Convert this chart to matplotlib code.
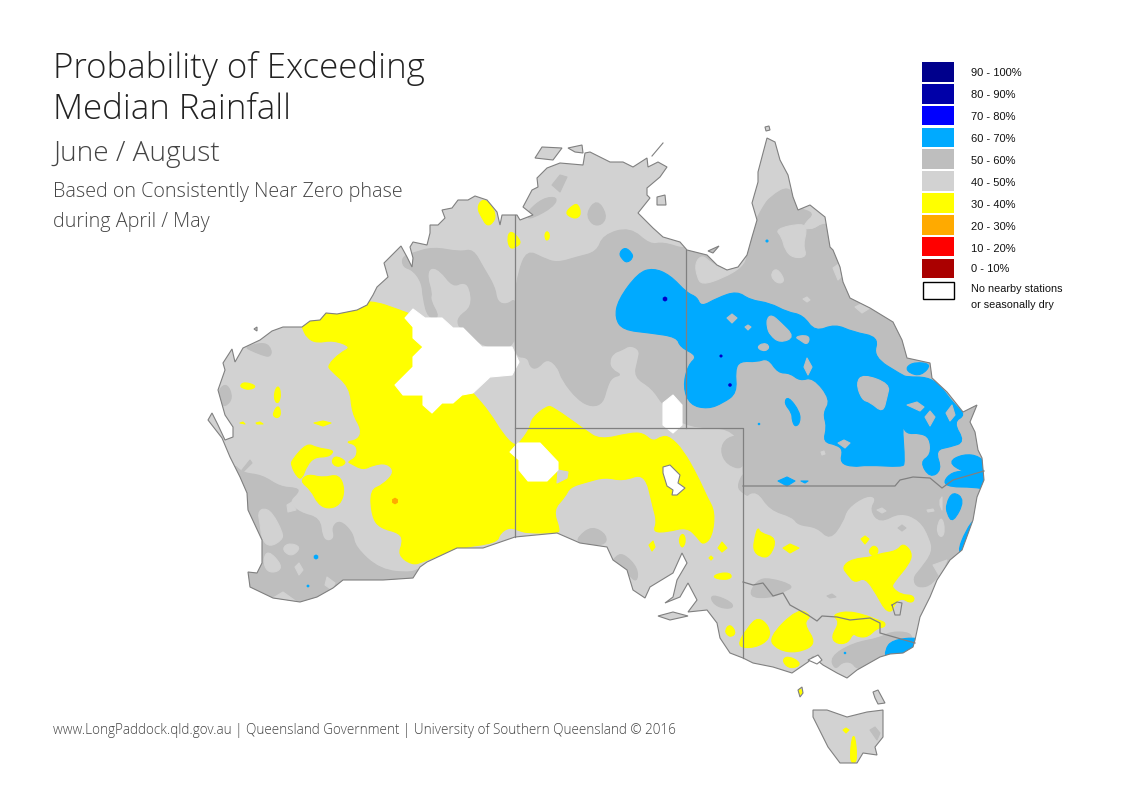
import matplotlib
matplotlib.use('Agg')
from matplotlib import pyplot as plt
from matplotlib.patches import Polygon, Rectangle, PathPatch
from matplotlib.path import Path

mainland = [(223,363),(232,349),(235,362),(243,348),(260,340),(272,331),(283,327),(302,327),(310,321),(320,320),(326,313),(337,314),(357,310),(367,305),(373,295),(377,287),(388,277),(384,263),(392,255),(401,246),(407,257),(412,267),(413,258),(410,247),(413,242),(427,245),(430,233),(430,225),(438,225),(445,218),(442,210),(452,208),(458,200),(468,200),(475,196),(487,200),(497,212),(500,225),(502,215),(517,215),(520,220),(533,215),(523,207),(532,190),(538,187),(537,178),(547,168),(560,163),(583,165),(585,153),(590,152),(610,162),(623,162),(633,167),(647,158),(648,167),(658,162),(667,167),(660,177),(647,188),(647,195),(650,198),(638,213),(653,228),(663,237),(680,242),(687,250),(707,255),(717,265),(727,270),(738,267),(747,255),(752,237),(757,220),(752,203),(758,182),(758,172),(763,153),(767,138),(775,142),(780,160),(788,175),(793,197),(798,210),(810,205),(825,217),(830,247),(833,250),(840,267),(843,282),(850,298),(870,308),(893,322),(902,340),(907,358),(930,363),(932,378),(947,392),(963,412),(977,405),(970,422),(975,432),(978,450),(982,458),(984,480),(977,497),(973,520),(962,550),(950,560),(937,580),(930,597),(920,617),(915,640),(913,647),(903,653),(890,654),(880,657),(857,670),(847,678),(837,673),(823,665),(813,657),(808,662),(792,673),(773,667),(753,663),(743,658),(730,653),(720,638),(717,623),(707,610),(688,612),(697,600),(688,583),(680,597),(665,603),(673,597),(677,580),(687,563),(682,553),(673,573),(650,587),(645,598),(633,590),(627,570),(613,560),(607,547),(580,543),(557,533),(515,537),(483,548),(457,548),(427,562),(420,567),(413,578),(383,580),(343,580),(333,588),(317,597),(300,602),(273,598),(250,587),(248,572),(257,573),(262,563),(262,540),(248,510),(247,493),(240,477),(230,457),(222,438),(208,420),(212,413),(218,425),(225,440),(233,437),(233,427),(225,415),(218,390),(225,370)]
tasmania = [(813,710),(827,710),(847,717),(867,712),(883,710),(883,730),(883,737),(875,747),(877,755),(863,753),(857,763),(840,763),(828,747),(823,737),(813,717)]
islands = [
    [(873,692),(878,690),(885,703),(878,704),(875,698)],
    [(798,690),(802,687),(803,693),(800,697)],
    [(658,616),(673,612),(688,616),(670,620)],
    [(535,158),(542,147),(562,148),(553,160)],
    [(568,148),(582,145),(583,153),(575,152)],
    [(657,197),(665,195),(666,205),(657,205)],
    [(708,251),(719,246),(713,253)],
    [(765,127),(769,126),(770,130),(766,131)],
    [(254,329),(257,327),(257,331)],
]

# 50 - 60 %
dark_areas = [
    [(515,297),(518,273),(527,250),(543,258),(557,263),(577,257),(597,252),(603,235),(630,227),(650,245),(663,242),(687,250),(700,240),(745,240),(755,222),(763,207),(770,197),(790,185),(797,208),(815,213),(803,223),(810,232),(825,222),(840,230),(900,300),(1000,400),(1000,500),(985,540),(947,560),(933,585),(917,588),(913,578),(920,570),(933,552),(930,538),(920,520),(900,512),(880,523),(870,510),(877,498),(867,495),(847,508),(843,522),(830,540),(817,527),(798,525),(793,517),(770,510),(757,490),(743,497),(743,428),(685,428),(663,405),(652,388),(634,377),(638,360),(640,350),(630,345),(622,350),(613,353),(609,362),(612,370),(622,375),(612,377),(607,387),(603,403),(592,407),(578,400),(562,380),(558,367),(547,358),(537,369),(530,367),(528,357),(514,357)],
    [(413,253),(433,247),(460,252),(473,249),(483,267),(495,287),(497,302),(507,305),(517,297),(517,350),(482,347),(463,328),(458,326),(458,317),(472,307),(470,287),(463,282),(453,287),(440,270),(430,267),(427,277),(432,293),(430,300),(440,318),(428,318),(423,298),(422,283),(413,270),(403,267),(402,257)],
    [(245,347),(265,342),(272,350),(270,357),(262,355),(250,350)],
    [(218,390),(227,383),(233,398),(225,407),(220,403)],
    [(552,185),(560,175),(567,177),(560,192)],
    [(527,212),(543,198),(558,197),(553,207),(533,218),(527,218)],
    [(586,213),(597,199),(607,215),(602,225),(592,225)],
    [(232,462),(242,473),(262,475),(280,487),(297,488),(299,492),(288,502),(300,513),(320,518),(322,537),(328,542),(335,538),(332,527),(340,520),(353,533),(355,547),(380,570),(413,573),(420,567),(420,620),(230,620),(220,500)],
    [(242,470),(250,460),(252,463),(243,472)],
    [(578,537),(592,526),(607,535),(605,546),(578,543)],
    [(615,557),(623,553),(638,568),(637,583),(627,573),(612,563)],
    [(720,450),(727,437),(745,435),(745,470),(727,465)],
    [(737,487),(743,473),(750,473),(750,497),(743,493)],
    [(710,598),(715,595),(733,603),(732,609),(717,607)],
    [(748,597),(757,580),(770,578),(795,586),(783,592),(770,598)],
    [(827,596),(832,594),(836,597),(830,598)],
    [(830,657),(853,643),(880,638),(890,632),(907,632),(913,637),(920,680),(857,670),(852,662),(842,662),(835,670)],
    [(898,528),(902,525),(906,528),(902,531)],
    [(870,730),(875,727),(880,733),(877,740)],
]

# 40 - 50 % patches lying inside the darker areas
light_areas = [
    [(695,263),(702,255),(710,262),(723,270),(740,265),(747,255),(742,267),(723,278),(702,285),(697,277)],
    [(771,273),(777,268),(785,280),(780,284),(773,280)],
    [(803,299),(807,297),(810,300),(807,302)],
    [(855,307),(863,303),(870,308),(862,313)],
    [(833,268),(840,263),(843,275),(838,280)],
    [(775,229),(803,223),(807,230),(803,245),(807,257),(793,258),(785,250),(782,237)],
    [(803,225),(815,215),(825,218),(820,225),(807,230)],
    [(258,513),(263,508),(272,512),(283,533),(282,540),(270,547),(262,540),(260,523)],
    [(263,560),(268,550),(282,565),(278,572),(267,572)],
    [(283,547),(290,543),(301,547),(293,556),(285,553)],
    [(295,567),(299,563),(303,570),(299,575)],
    [(325,585),(327,577),(335,583),(332,590)],
    [(273,598),(283,592),(297,602)],
    [(287,505),(292,502),(296,510),(288,512)],
    [(940,500),(942,497),(942,510),(940,505)],
    [(927,510),(933,509),(934,511),(928,512)],
    [(938,523),(942,517),(945,530),(942,538),(937,533)],
    [(877,510),(882,508),(886,511),(882,513)],
    [(933,565),(947,560),(940,577)],
    [(821,452),(824,451),(825,454),(822,455)],
]

# 30 - 40 %
yellow_areas = [
    [(302,327),(307,338),(317,343),(333,340),(352,347),(340,353),(328,365),(330,370),(350,387),(352,413),(362,430),(358,440),(345,442),(357,445),(357,457),(348,462),(350,463),(363,470),(373,465),(387,463),(395,472),(383,485),(370,490),(372,517),(380,528),(400,533),(403,542),(398,555),(412,565),(423,562),(457,548),(497,543),(500,533),(510,527),(520,531),(528,533),(557,533),(560,530),(553,510),(565,497),(570,487),(587,482),(605,477),(623,481),(645,473),(653,507),(657,522),(653,532),(667,532),(687,527),(698,538),(703,545),(712,537),(715,512),(707,497),(698,477),(683,450),(670,437),(662,436),(653,442),(643,433),(630,433),(600,440),(585,430),(553,407),(547,406),(532,418),(530,428),(522,440),(515,447),(502,433),(490,413),(473,393),(460,380),(420,350),(425,320),(400,310),(370,300),(340,305),(300,320)],
    [(477,208),(482,199),(490,203),(496,215),(493,223),(487,226),(482,218)],
    [(507,238),(511,230),(522,242),(516,247),(510,249)],
    [(565,213),(573,205),(578,204),(581,213),(578,218),(572,218)],
    [(545,233),(548,231),(550,237),(547,241),(545,238)],
    [(240,385),(245,382),(257,386),(250,390),(242,388)],
    [(274,393),(278,385),(281,393),(279,403),(275,402)],
    [(273,413),(278,405),(281,412),(279,418),(274,417)],
    [(240,423),(243,422),(245,424)],
    [(256,423),(260,422),(263,424),(257,424)],
    [(314,423),(323,421),(331,423),(323,426)],
    [(292,460),(307,443),(317,448),(332,450),(333,453),(327,457),(315,457),(307,465),(302,479),(297,477),(291,465)],
    [(300,481),(308,474),(323,478),(339,474),(345,490),(340,505),(328,509),(318,504),(311,490)],
    [(332,459),(337,456),(347,462),(340,467),(333,465)],
    [(649,545),(653,541),(655,547),(652,551)],
    [(679,538),(683,533),(686,540),(683,548),(680,545)],
    [(718,548),(722,542),(727,548),(722,552)],
    [(709,558),(711,556),(713,558),(711,560)],
    [(712,577),(720,573),(730,573),(732,578),(723,580)],
    [(725,630),(730,624),(736,632),(732,637),(727,635)],
    [(736,647),(748,627),(758,617),(769,626),(770,639),(755,648)],
    [(758,527),(760,533),(777,538),(770,557),(760,557),(753,550),(755,537)],
    [(783,548),(790,544),(799,548),(790,553)],
    [(842,567),(852,559),(873,557),(878,554),(897,551),(903,543),(912,552),(910,563),(893,583),(892,588),(902,595),(912,595),(915,600),(910,603),(902,598),(895,603),(892,612),(885,610),(877,595),(865,577),(855,583),(848,575)],
    [(869,550),(874,545),(879,550),(875,557),(870,554)],
    [(861,539),(865,536),(869,539),(865,544)],
    [(768,638),(798,608),(812,616),(803,623),(817,644),(797,653),(778,650)],
    [(782,660),(788,656),(800,662),(798,667),(788,668)],
    [(832,615),(847,611),(865,615),(877,620),(885,622),(885,627),(877,628),(868,637),(858,637),(853,633),(848,643),(837,644),(831,637),(840,622)],
    [(798,692),(800,688),(803,693),(801,695)],
    [(850,757),(852,737),(855,736),(857,757),(855,763),(852,763)],
    [(843,730),(846,728),(849,730),(846,733)],
]
yellow_holes = [
    [(558,470),(568,472),(567,478),(557,483)],
]

# 60 - 70 %
blue_areas = [
    [(653,268),(670,275),(687,293),(697,297),(701,307),(717,298),(737,291),(750,300),(770,303),(787,312),(803,315),(815,332),(835,324),(853,332),(879,337),(873,357),(902,375),(907,377),(927,377),(940,385),(953,403),(966,415),(953,422),(965,442),(950,447),(935,450),(942,470),(930,478),(920,462),(931,455),(930,438),(920,433),(906,434),(902,423),(905,463),(902,467),(867,465),(853,467),(840,463),(843,450),(837,445),(823,442),(827,427),(823,413),(831,400),(813,377),(800,381),(790,373),(778,373),(768,358),(757,362),(740,361),(735,370),(737,393),(723,403),(708,409),(690,405),(683,387),(688,365),(698,356),(680,347),(677,337),(650,333),(623,330),(615,318),(618,300),(638,273)],
    [(619,253),(625,247),(632,253),(633,258),(627,263),(622,259)],
    [(784,403),(788,396),(800,412),(800,423),(795,427),(792,420),(792,413)],
    [(948,462),(963,454),(980,456),(990,470),(984,476),(963,472)],
    [(943,482),(952,472),(967,471),(990,468),(990,490),(973,487),(950,487)],
    [(778,481),(787,477),(795,481),(787,486)],
    [(801,481),(808,481),(805,483)],
    [(946,504),(953,491),(965,500),(953,523),(947,514)],
    [(957,553),(966,530),(976,517),(980,530),(968,556)],
    [(885,650),(892,640),(919,637),(922,646),(905,660),(886,660)],
    [(906,367),(915,362),(932,364),(921,376),(909,373)],
]
blue_holes = [
    [(727,318),(732,314),(737,318),(732,323)],
    [(745,327),(748,325),(751,327),(748,330)],
    [(767,318),(772,315),(780,322),(795,337),(780,343),(770,335),(767,327)],
    [(795,337),(805,335),(810,338),(807,345),(800,340)],
    [(757,347),(763,343),(769,345),(768,350),(762,351)],
    [(804,367),(807,358),(812,367),(808,375)],
    [(856,383),(863,374),(890,384),(887,397),(883,413),(870,402),(862,400)],
    [(907,405),(917,402),(924,407),(920,411)],
    [(925,417),(930,411),(935,417),(930,426)],
    [(946,413),(952,405),(955,415),(950,421)],
    [(838,443),(844,440),(850,443),(845,448)],
]

# no nearby stations
white_areas = [
    [(405,318),(413,309),(425,318),(442,318),(453,328),(463,328),(482,347),(512,347),(519,362),(512,375),(490,377),(473,393),(462,395),(453,403),(442,403),(432,413),(423,405),(423,395),(403,395),(395,385),(413,367),(413,357),(423,347),(413,338),(413,327)],
    [(510,452),(518,443),(540,443),(558,462),(558,470),(547,481),(528,481),(519,470),(519,460)],
    [(663,403),(673,395),(682,405),(682,425),(673,433),(663,425)],
]
lake = [(663,467),(670,465),(680,475),(678,483),(685,488),(677,495),(672,495),(673,490),(667,486),(663,473)]
port_phillip = [(808,660),(818,655),(822,660),(817,664)]
act = [(892,605),(897,602),(902,603),(900,615),(895,615),(892,605)]

# small single cells
spot_x = [665,730,721,767,759,844,316,308,845,395]
spot_y = [299,385,356,241,424,413,557,586,653,501]
spot_colors = ['#0000c8','#0000c8','#0000c8','#00aaff','#00aaff','#00aaff','#00aaff','#00aaff','#00aaff','#ffaa00']
spot_sizes = [14,8,6,6,4,4,14,5,4,24]

borders = [
    [(515,215),(515,537)],
    [(686,250),(686,428)],
    [(515,428),(743,428),(743,658)],
    [(743,486),(895,486),(900,480),(913,477),(930,478),(942,488),(953,480),(984,471)],
    [(743,582),(753,585),(763,583),(773,596),(783,593),(790,605),(808,615),(817,621),(822,616),(837,617),(850,620),(870,618),(880,623),(880,633),(915,643)],
]

legend_labels = ['90 - 100%','80 - 90%','70 - 80%','60 - 70%','50 - 60%','40 - 50%','30 - 40%','20 - 30%','10 - 20%','0 - 10%']
legend_colors = ['#00008c','#0000a8','#0000ff','#00aaff','#bebebe','#d2d2d2','#ffff00','#ffaa00','#ff0000','#aa0000']
legend_top = [62,84,106,128,149,171,193,215,237,259]
legend_bottom = [82,104,125,147,169,191,213,235,256,278]
legend_text_y = [73,95,117,138,160,182,204,226,248,269]

land_color = '#d2d2d2'
dark_color = '#bebebe'
coast_color = '#808080'


def rounded(poly):
    # the outline points become control points of a curve through the edge middles
    mid = [((poly[i][0] + poly[(i + 1) % len(poly)][0]) / 2, (poly[i][1] + poly[(i + 1) % len(poly)][1]) / 2) for i in range(len(poly))]
    verts = [mid[-1]]
    codes = [Path.MOVETO]
    for i in range(len(poly)):
        verts += [poly[i], mid[i]]
        codes += [Path.CURVE3, Path.CURVE3]
    return Path(verts, codes)


def fill(polys, color, z, clip, smooth=True):
    for poly in polys:
        if smooth and len(poly) >= 5:
            patch = PathPatch(rounded(poly), facecolor=color, edgecolor=color, lw=0.8, zorder=z)
        else:
            patch = Polygon(poly, closed=True, facecolor=color, edgecolor=color, lw=0.8, joinstyle='round', zorder=z)
        ax.add_patch(patch)
        patch.set_clip_path(clip)


fig = plt.figure(figsize=(11.23, 7.94), dpi=100)
ax = fig.add_axes([0, 0, 1, 1])
ax.set_xlim(0, 1123)
ax.set_ylim(794, 0)
ax.axis('off')

# clip everything to the land
verts = []
codes = []
for poly in [mainland, tasmania] + islands:
    verts += poly + [poly[0]]
    codes += [Path.MOVETO] + [Path.LINETO] * (len(poly) - 1) + [Path.CLOSEPOLY]
land = Path(verts, codes)
land_patch = ax.add_patch(PathPatch(land, facecolor=land_color, edgecolor='none', zorder=1))

fill(dark_areas, dark_color, 2, land_patch)
fill(light_areas, land_color, 3, land_patch)
fill(yellow_areas, '#ffff00', 4, land_patch)
fill(yellow_holes, land_color, 5, land_patch)
fill(blue_areas, '#00aaff', 6, land_patch)
fill(blue_holes, dark_color, 7, land_patch)
fill(white_areas, 'white', 8, land_patch, smooth=False)
ax.scatter(spot_x, spot_y, s=spot_sizes, c=spot_colors, marker='h', linewidths=0, zorder=9)

for line in borders:
    ax.plot([p[0] for p in line], [p[1] for p in line], color=coast_color, lw=0.9, zorder=10)

ax.add_patch(PathPatch(land, facecolor='none', edgecolor=coast_color, lw=0.8, zorder=11))
ax.add_patch(Polygon(lake, closed=True, facecolor='white', edgecolor=coast_color, lw=0.8, zorder=11))
ax.add_patch(Polygon(port_phillip, closed=True, facecolor='white', edgecolor=coast_color, lw=0.8, zorder=11))
ax.plot([p[0] for p in act], [p[1] for p in act], color=coast_color, lw=0.8, zorder=11)
ax.plot([652, 663], [156, 143], color=coast_color, lw=0.8, zorder=11)

# legend
for lab, col, top, bot, ty in zip(legend_labels, legend_colors, legend_top, legend_bottom, legend_text_y):
    ax.add_patch(Rectangle((922, top), 32, bot - top, facecolor=col, edgecolor='none'))
    ax.text(971, ty + 0.5, lab, fontsize=8, family='Liberation Sans', va='center', color='#111111')
ax.add_patch(Rectangle((922.5, 281.5), 31, 17, facecolor='white', edgecolor='black', lw=1))
ax.text(971, 288.5, 'No nearby stations', fontsize=7.8, family='Liberation Sans', va='center', color='#111111')
ax.text(971, 304.5, 'or seasonally dry', fontsize=7.8, family='Liberation Sans', va='center', color='#111111')

# titles
title_font = dict(family='Open Sans', weight='light', color='#222222')
ax.text(53, 78, 'Probability of Exceeding', fontsize=25.1, **title_font)
ax.text(53, 119, 'Median Rainfall', fontsize=25.1, **title_font)
ax.text(53, 161, 'June / August', fontsize=20.2, color='#444444', family='Open Sans', weight='light')
ax.text(53, 197, 'Based on Consistently Near Zero phase', fontsize=14.2, color='#444444', family='Open Sans', weight='light')
ax.text(53, 227, 'during April / May', fontsize=14.2, color='#444444', family='Open Sans', weight='light')
ax.text(53, 734, 'www.LongPaddock.qld.gov.au | Queensland Government | University of Southern Queensland © 2016', fontsize=9.75, color='#444444', family='Open Sans', weight='light')

plt.savefig('out.png', dpi=100)
